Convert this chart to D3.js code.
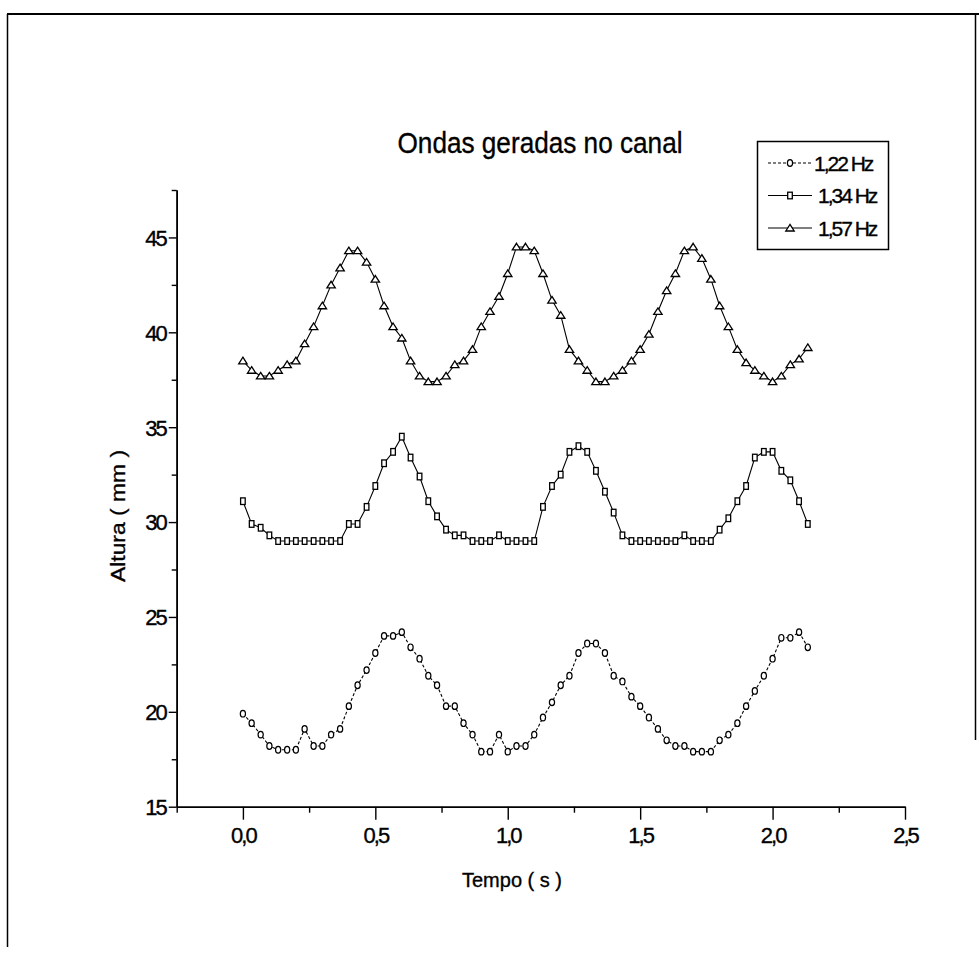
<!DOCTYPE html>
<html>
<head>
<meta charset="utf-8">
<script src="https://cdn.jsdelivr.net/npm/d3@7"></script>
<style>
body{margin:0;background:#fff;}
text{font-family:"Liberation Sans", Arial, sans-serif;fill:#000;stroke:#000;stroke-width:0.35px;}
</style>
</head>
<body>
<div id="chart"></div>
<script>
var width=979;
var height=957;

// tempo (s), one sample every 1/30 s
var tempo=[0,0.033,0.067,0.1,0.133,0.167,0.2,0.233,0.267,0.3,0.333,0.367,0.4,0.433,0.467,0.5,0.533,0.567,0.6,0.633,0.667,
  0.7,0.733,0.767,0.8,0.833,0.867,0.9,0.933,0.967,1.0,1.033,1.067,1.1,1.133,1.167,1.2,1.233,1.267,1.3,1.333,1.367,1.4,1.433,1.467,
  1.5,1.533,1.567,1.6,1.633,1.667,1.7,1.733,1.767,1.8,1.833,1.867,1.9,1.933,1.967,2.0,2.033,2.067,2.1,2.133];

// altura (mm)
var hz122=[19.9,19.4,18.8,18.2,18.0,18.0,18.0,19.1,18.2,18.2,18.8,19.1,20.3,21.4,22.2,23.1,24.0,24.0,24.2,23.4,22.8,
  21.9,21.4,20.3,20.3,19.4,18.8,17.9,17.9,18.8,17.9,18.2,18.2,18.8,19.7,20.5,21.4,21.9,23.1,23.6,23.6,23.1,21.9,21.6,20.8,
  20.3,19.7,19.1,18.5,18.2,18.2,17.9,17.9,17.9,18.5,18.8,19.4,20.3,21.1,21.9,22.8,23.9,23.9,24.2,23.4];
var hz134=[31.1,29.9,29.7,29.3,29.0,29.0,29.0,29.0,29.0,29.0,29.0,29.0,29.9,29.9,30.8,31.9,33.1,33.7,34.5,33.4,32.4,
  31.1,30.3,29.6,29.3,29.3,29.0,29.0,29.0,29.3,29.0,29.0,29.0,29.0,30.8,31.9,32.5,33.7,34.0,33.7,32.7,31.6,30.5,29.3,29.0,
  29.0,29.0,29.0,29.0,29.0,29.3,29.0,29.0,29.0,29.6,30.2,31.1,31.9,33.4,33.7,33.7,32.7,32.2,31.1,29.9];
var hz157=[38.5,38.0,37.7,37.7,38.0,38.3,38.5,39.4,40.3,41.4,42.5,43.4,44.3,44.3,43.7,42.8,41.4,40.3,39.7,38.5,37.7,
  37.4,37.4,37.7,38.3,38.5,39.1,40.3,41.1,41.9,43.1,44.5,44.5,44.3,43.1,41.7,40.9,39.1,38.5,38.0,37.4,37.4,37.7,38.0,38.5,
  39.1,39.9,41.1,42.2,43.1,44.3,44.5,43.9,42.8,41.4,40.3,39.1,38.4,38.0,37.7,37.4,37.7,38.3,38.6,39.2];

var seriesNames=["1,22 Hz","1,34 Hz","1,57 Hz"];
var seriesVals=[hz122,hz134,hz157];
var seriesMarks=["circle","square","triangle"];

var xTicks=[0,0.5,1.0,1.5,2.0,2.5];
var xMinor=[-0.25,0.25,0.75,1.25,1.75,2.25];
var yTicks=[15,20,25,30,35,40,45];
var yMinor=[17.5,22.5,27.5,32.5,37.5,42.5,47.5];

var titulo="Ondas geradas no canal";
var xTitulo="Tempo ( s )";
var yTitulo="Altura ( mm )";

var svg=d3.select("#chart").append("svg")
  .attr("width",width)
  .attr("height",height);

// page frame
svg.append("line").attr("x1",7).attr("y1",14).attr("x2",979).attr("y2",14).attr("stroke","#000").attr("stroke-width",2);
svg.append("line").attr("x1",7.5).attr("y1",14).attr("x2",7.5).attr("y2",947).attr("stroke","#000").attr("stroke-width",1.5);
svg.append("line").attr("x1",975.5).attr("y1",14).attr("x2",975.5).attr("y2",740).attr("stroke","#000").attr("stroke-width",1.5);

var x=d3.scaleLinear().domain([-0.25,2.5]).range([176.7,905]);
var y=d3.scaleLinear().domain([15,47.5]).range([806.7,190]);

var fmt=function(d){return d3.format(".1f")(d).replace(".",",");};

// x axis
var gx=svg.append("g").attr("transform","translate(0,806.7)");
gx.call(d3.axisBottom(x).tickValues(xTicks).tickSize(13).tickFormat(fmt).tickSizeOuter(0));
gx.append("g").call(d3.axisBottom(x).tickValues(xMinor).tickSize(6).tickFormat("").tickSizeOuter(0));

// y axis
var gy=svg.append("g").attr("transform","translate(176.7,0)");
gy.call(d3.axisLeft(y).tickValues(yTicks).tickSize(8).tickFormat(d3.format("d")).tickSizeOuter(0));
gy.append("g").call(d3.axisLeft(y).tickValues(yMinor).tickSize(5).tickFormat("").tickSizeOuter(0));

svg.selectAll(".domain").attr("stroke","#000").attr("stroke-width",1.6);
svg.selectAll(".tick line").attr("stroke","#000").attr("stroke-width",1.4);
gx.selectAll(".tick text").attr("dy",0).attr("y",36).style("font-size","22px").style("letter-spacing","-2px").attr("font-family",null);
gy.selectAll(".tick text").attr("x",-11).attr("dy","0.36em").style("font-size","22px").style("letter-spacing","-2px").attr("font-family",null);

// titles
svg.append("text").attr("x",540).attr("y",153).attr("text-anchor","middle")
  .attr("textLength",285).attr("lengthAdjust","spacingAndGlyphs")
  .style("font-size","30px").text(titulo);
svg.append("text").attr("x",512).attr("y",887).attr("text-anchor","middle")
  .attr("textLength",100).attr("lengthAdjust","spacingAndGlyphs")
  .style("font-size","21px").text(xTitulo);
svg.append("text").attr("transform","translate(125,516) rotate(-90)").attr("text-anchor","middle")
  .attr("textLength",132).attr("lengthAdjust","spacingAndGlyphs")
  .style("font-size","21px").text(yTitulo);

// markers
function drawMark(g,kind,cx,cy){
  if (kind==="circle"){
    g.append("ellipse").attr("cx",cx).attr("cy",cy).attr("rx",2.6).attr("ry",3.3)
      .attr("fill","#fff").attr("stroke","#000").attr("stroke-width",1.2);
  } else if (kind==="square"){
    g.append("rect").attr("x",cx-2.3).attr("y",cy-3.3).attr("width",4.6).attr("height",6.6)
      .attr("fill","#fff").attr("stroke","#000").attr("stroke-width",1.3);
  } else {
    var p=[[cx,cy-3.6],[cx+4.2,cy+3],[cx-4.2,cy+3]];
    g.append("path").attr("d","M"+p.join("L")+"Z")
      .attr("fill","#fff").attr("stroke","#000").attr("stroke-width",1.3);
  }
}

var line=d3.line().x(function(d,i){return x(tempo[i]);}).y(function(d){return y(d);});

seriesVals.forEach(function(vals,s){
  var g=svg.append("g");
  g.append("path").datum(vals).attr("d",line).attr("fill","none")
    .attr("stroke","#000").attr("stroke-width",1.1)
    .attr("stroke-dasharray",s===0?"3,2":null);
  vals.forEach(function(v,i){
    drawMark(g,seriesMarks[s],x(tempo[i]),y(v));
  });
});

// legend
var lg=svg.append("g");
lg.append("rect").attr("x",757.5).attr("y",141.5).attr("width",131).attr("height",108)
  .attr("fill","#fff").attr("stroke","#000").attr("stroke-width",1.5);
seriesNames.forEach(function(name,s){
  var ly=163+s*32.5;
  lg.append("line").attr("x1",768).attr("x2",812).attr("y1",ly).attr("y2",ly)
    .attr("stroke","#000").attr("stroke-width",1.1).attr("stroke-dasharray",s===0?"3,2":null);
  drawMark(lg,seriesMarks[s],790,ly);
  lg.append("text").attr("x",s===0?814:818).attr("y",ly+7.5)
    .style("font-size","21px").style("letter-spacing","-2px").text(name);
});
</script>
</body>
</html>
